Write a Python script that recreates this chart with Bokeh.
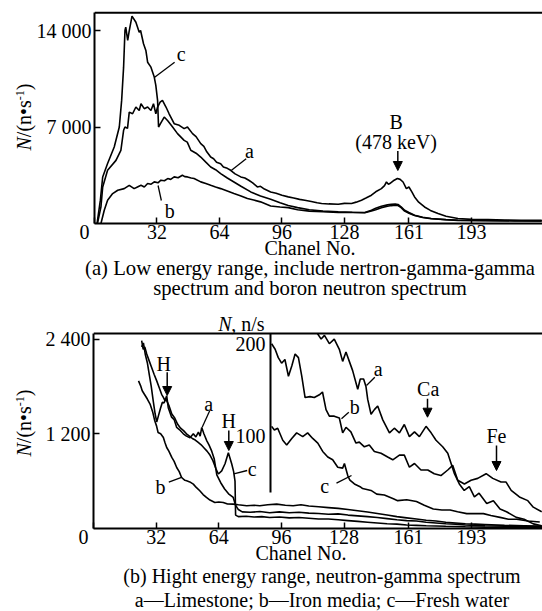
import math
from bokeh.plotting import figure
from bokeh.models import Label, Arrow, NormalHead, Span, Range1d, FixedTicker, Div
from bokeh.layouts import column, row
from bokeh.embed import file_html
from bokeh.resources import INLINE

# ---------------- data ----------------
ticks_x = [0, 32, 64, 96, 128, 161, 193]
ticks_low_y = [7000, 14000]
ticks_high_y = [1200, 2400]
inset_ticks = [100, 200]

# (a) low energy range
a_low_ch = [1.5, 3.3, 4.2, 6.7, 11, 13.5, 14.9, 15.6, 16.9, 17.8, 19.5, 21.2, 22.9, 23.8, 25.5, 27.2, 28.9,
            30.2, 31.4, 32.3, 33.6, 34.8, 36.6, 38.2, 40.8, 43.4, 45.9, 47.6, 50.2, 52, 54.4, 56, 57.5, 59.5,
            61, 62.5, 64.6, 66, 68, 69.7, 72, 74.9, 77, 79, 81, 83.4, 85, 87, 90.2, 93, 96, 99.2, 102, 105,
            107.7, 111, 114, 116.3, 120, 124.8, 128, 131.6, 134, 136.7, 139, 141.8, 144, 146.9, 148.5, 149.5,
            150.5, 151.2, 153, 155.1, 156.5, 158, 159.7, 161, 162.5, 163.9, 166, 169, 172, 175.9, 180, 186.1,
            193, 201.5, 210, 218.4, 229]
a_low_n = [0, 1200, 2650, 3860, 4580, 5310, 6760, 7000, 6900, 8080, 7960, 8450, 8200, 8690, 8330, 8450, 8200,
           8690, 7960, 8450, 8810, 8930, 8450, 7960, 7240, 7120, 6880, 7000, 6520, 6300, 5790, 5600, 5200, 4820,
           4700, 4450, 4340, 4100, 4000, 3860, 3600, 3380, 3300, 3140, 2950, 2650, 2700, 2500, 2290, 2200, 2050,
           1930, 1850, 1750, 1690, 1600, 1500, 1450, 1420, 1400, 1460, 1450, 1550, 1690, 1850, 2050, 2300, 2530,
           2750, 3010, 2850, 2900, 3100, 3260, 3200, 3010, 2530, 2650, 2300, 1930, 1550, 1200, 950, 720, 520,
           360, 300, 290, 250, 240, 230]

c_low_ch = [1.3, 3, 4.2, 6.7, 10.1, 12.7, 13.9, 14.9, 15.6, 16, 17, 17.7, 19.2, 21.2, 22.9, 23.6, 25.1, 26.3,
            27.2, 28.9, 30.6, 31.4, 32.3, 32.8, 34, 35.7, 37.5, 40, 42.5, 45.9, 47.5, 49.3, 52, 54.4, 57, 59.5,
            62, 64.6, 68, 71.4, 75, 80, 85, 90.2, 95, 99.2, 104, 110, 117, 124.8, 132, 138.4, 141.8, 144, 146.9,
            150, 152, 154, 155.4, 157, 158.8, 161, 163.9, 168, 172.4, 180, 186, 200, 215, 229]
c_low_n = [0, 1690, 3380, 4350, 5550, 7000, 8930, 11340, 14000, 14250, 13280, 13900, 15040, 14600, 13880, 14000,
           13040, 12550, 11700, 11340, 10620, 10020, 8930, 7000, 7300, 7720, 7450, 7000, 6520, 6030, 5900, 5310,
           5100, 4820, 4450, 4100, 3900, 3620, 3300, 3010, 2700, 2290, 2000, 1760, 1500, 1300, 1150, 1000, 900,
           850, 820, 800, 960, 1100, 1250, 1350, 1400, 1420, 1380, 1200, 960, 800, 600, 450, 360, 280, 240, 220,
           200, 190]

b_low_ch = [3.3, 5, 6.7, 9.3, 11.9, 15.2, 17.8, 20.3, 22, 23.8, 25.5, 27.2, 29, 30.6, 32.5, 34, 35.8, 37.5, 39,
            40.8, 42.8, 45, 46.2, 47.6, 49.5, 51, 54.4, 57, 59.5, 62, 64.6, 68, 71.4, 75, 78.3, 81.5, 85, 90.2,
            95, 99.2, 104, 110, 117, 124.8, 132, 138.4, 141.8, 144, 146.9, 150, 152, 154, 155.4, 157, 158.8, 161,
            163.9, 168, 172.4, 180, 186, 200, 215, 229]
b_low_n = [0, 960, 1690, 2170, 2410, 2530, 2770, 2530, 2650, 2770, 2650, 2900, 2850, 3020, 2950, 3140, 3100,
           3260, 3200, 3380, 3320, 3500, 3400, 3380, 3300, 3260, 3020, 2900, 2770, 2650, 2530, 2350, 2170, 2000,
           1810, 1700, 1570, 1270, 1200, 1150, 1000, 900, 850, 810, 800, 780, 900, 1000, 1150, 1250, 1300, 1320,
           1300, 1150, 900, 750, 580, 430, 350, 270, 230, 210, 190, 180]

# (b) high energy range, main scale
a_high_ch = [24.6, 25.4, 26.2, 27.2, 28.5, 29.7, 31, 32.3, 33.5, 34.8, 35.7, 36.5, 37.4, 38.2, 39.9, 41.2, 42.5,
             44, 45.9, 47.5, 49.3, 51, 52.3, 53.6, 54.5, 55.3, 56.4, 57.9, 59, 60.4, 61.7, 63, 65, 67, 69, 71.4,
             72.5, 74, 76, 80, 85, 90, 95, 100, 105, 110, 115, 120, 125, 130, 135, 140, 145, 150, 155, 160, 165,
             170, 175, 180, 185, 190, 195, 200, 210, 220, 230]
a_high_n = [2380, 2270, 2300, 2210, 2120, 2040, 1950, 1870, 1790, 1700, 1660, 1620, 1680, 1530, 1410, 1380, 1280,
            1250, 1200, 1170, 1150, 1200, 1160, 1220, 1170, 1280, 1200, 1110, 1060, 980, 880, 680, 580, 500, 440,
            393, 300, 240, 210, 205, 215, 200, 210, 200, 205, 195, 190, 180, 185, 170, 160, 150, 140, 125, 110,
            100, 95, 80, 70, 60, 55, 45, 40, 35, 30, 25, 20]

b_high_ch = [23, 24.2, 24.9, 26, 27.5, 28.9, 30.2, 31.3, 32.2, 33, 34.3, 35.7, 36.5, 37.4, 38.5, 40, 41.2, 42.5,
             43.8, 45, 46.7, 47.6, 49.2, 51, 52.5, 54.3, 56, 57.7, 59.5, 62, 64, 66.3, 68.5, 71.4, 74, 78.3, 82,
             85, 89, 93.6, 98, 102, 106, 110, 115, 120, 125, 130, 135, 140, 145, 150, 155, 160, 165, 170, 175,
             180, 185, 190, 195, 200, 210, 220, 230]
b_high_n = [1870, 1800, 1745, 1700, 1640, 1576, 1480, 1365, 1300, 1216, 1200, 1153, 1090, 1026, 980, 900, 850,
            773, 720, 646, 610, 604, 590, 562, 520, 478, 430, 393, 360, 330, 335, 330, 310, 309, 300, 288, 295,
            288, 300, 309, 295, 288, 300, 285, 275, 265, 255, 240, 225, 210, 190, 170, 150, 135, 120, 105, 95,
            80, 70, 60, 55, 50, 40, 35, 30]

c_high_ch = [24.6, 25.5, 26.5, 27.5, 28.5, 29.5, 30.6, 31.5, 32.3, 33.2, 34.2, 35.2, 36, 37, 38.5, 40, 41.5, 43,
             44.5, 46, 47.5, 49, 50.5, 52, 53.5, 55, 56.5, 58, 59.5, 61, 62.5, 63.8, 65.5, 67.2, 68.9, 70.6, 71.6,
             72.3, 72.6, 74, 78, 82, 86, 90, 95, 100, 105, 110, 115, 120, 125, 130, 135, 140, 145, 150, 155, 160,
             165, 170, 180, 190, 200, 210, 220, 230]
c_high_n = [2300, 2350, 2200, 2100, 1950, 1800, 1600, 1450, 1350, 1430, 1520, 1600, 1590, 1640, 1560, 1450, 1400,
            1320, 1270, 1240, 1200, 1170, 1140, 1120, 1090, 1060, 1020, 980, 930, 860, 760, 690, 730, 820, 960,
            820, 720, 600, 170, 150, 155, 145, 150, 140, 145, 135, 140, 130, 120, 120, 110, 100, 90, 80, 70, 60,
            55, 45, 40, 35, 28, 22, 18, 15, 12, 10]

# (b) inset, N in n/s
a_ins_ch = [114.4, 116.3, 118, 120.5, 123, 125.6, 127.3, 129, 130.7, 132.4, 135, 136.3, 138, 139.2, 140.1,
            141.8, 143.5, 145.2, 147.8, 149.5, 151.2, 153.7, 156.3, 158.8, 161.4, 164, 166.5, 169.9, 172.5, 175,
            178.4, 181, 182.7, 184.4, 186.9, 189.4, 192, 194.6, 197, 200.9, 204.3, 207.7, 211, 216, 220, 224.7, 229]
a_ins_n = [210, 204, 208, 199, 204, 193, 180, 190, 180, 170, 150, 161, 161, 153, 139, 123, 128, 132, 117,
           110, 103, 108, 103, 112, 99, 104, 99, 110, 103, 95, 88, 81, 70, 59, 48, 41, 45, 34, 38, 27, 30, 21, 18,
           12, 10, 5, 3]

b_ins_ch = [91, 92.8, 94.4, 96.1, 97.8, 99.6, 101.3, 103, 104.7, 106.4, 108.1, 110.6, 112.8, 115.4, 117, 118.8,
            120.5, 123, 125.6, 127.3, 129, 131.5, 134.1, 135.8, 138.4, 140.9, 143.5, 146.9, 150.3, 152.9, 156.3,
            158.8, 161.4, 164, 167.3, 170.8, 174.1, 177.5, 181, 183.5, 186.1, 189.5, 192.9, 196.3, 200.6, 204,
            208.2, 210.8, 213.4, 217.6, 221.9, 224.7, 229]
b_ins_n = [199, 193, 184, 178, 182, 164, 175, 188, 184, 164, 141, 142, 141, 144, 147, 128, 121, 121, 119, 103,
           109, 104, 92, 93, 88, 90, 83, 81, 77, 74, 79, 79, 66, 70, 63, 63, 59, 57, 63, 68, 52, 48, 52, 54, 59,
           54, 50, 50, 41, 34, 30, 23, 18]

c_ins_ch = [91, 92.4, 94.1, 96.7, 98.7, 101.3, 103.8, 106.9, 109.4, 112, 114.6, 117.1, 119.7, 122.2, 124.8, 127.3,
            128.2, 129.9, 131, 133.3, 136.2, 137.5, 141.8, 144.7, 148.6, 153.2, 155.4, 160, 165, 169, 173.6, 178,
            182.2, 186, 190.7, 195, 199.2, 203, 207.7, 212, 216.2, 222, 228]
c_ins_n = [110, 106, 108, 95, 90, 97, 103, 99, 103, 97, 92, 83, 77, 74, 66, 65, 70, 57, 52, 48, 45, 43, 41, 37,
           36, 32, 30, 31, 29, 25, 21, 20, 20, 18, 16, 16, 16, 14, 12, 10, 10, 8, 7]

xlabel_text = "Chanel No."
caption_a1 = "(a) Low energy range, include nertron-gamma-gamma"
caption_a2 = "spectrum and boron neutron spectrum"
caption_b = "(b) Hight energy range, neutron-gamma spectrum"
legend_text = "a\u2014Limestone; b\u2014Iron media; c\u2014Fresh water"

# ---------------- layout constants (page pixels) ----------------
FONT = "Liberation Serif"
FS = "20px"
PAGE_W = 542
YL_W = 33               # width of the y-label strip
FRAME_L = 93            # page x of the left axis
FIG_W = PAGE_W - YL_W
XMAX = 229.4
PXC = (PAGE_W - FRAME_L) / XMAX

BOT_BORDER = 34
HA = 223 + BOT_BORDER   # top figure (frame 10..223)
B_TOP = 300             # page y where bottom figure starts
CAP_A_H = B_TOP - HA
HB = 12 + 216 + BOT_BORDER  # bottom figure (frame 312..528)
CAP_B_H = 611 - B_TOP - HB


def cx(X):
    return (X - FRAME_L) / PXC


def ya(Y):
    return (223 - Y) * 14000 / 193


def yb(Y):
    return (528 - Y) * 2470 / 195


def yi(Y):
    return (528 - Y) * 210 / 195


def base_fig(height, top, yend, ybound, yticks, overrides):
    p = figure(width=FIG_W, height=height, x_range=Range1d(0, XMAX), y_range=Range1d(0, yend),
               output_backend="svg", toolbar_location=None,
               min_border_left=FRAME_L - YL_W, min_border_right=0,
               min_border_top=top, min_border_bottom=BOT_BORDER)
    p.title.visible = False
    p.grid.visible = False
    p.outline_line_color = None
    p.border_fill_color = None
    p.background_fill_color = None
    for ax in (p.xaxis[0], p.yaxis[0]):
        ax.axis_line_width = 2
        ax.major_tick_in = 6
        ax.major_tick_out = 0
        ax.major_tick_line_width = 1.5
        ax.minor_tick_line_color = None
        ax.major_label_text_font = FONT
        ax.major_label_text_font_size = FS
        ax.major_label_text_color = "black"
    p.xaxis.ticker = FixedTicker(ticks=ticks_x)
    p.xaxis.major_label_overrides = {0: "0\u00a0\u00a0\u00a0\u00a0"}
    p.xaxis.major_label_standoff = -3
    p.yaxis.ticker = FixedTicker(ticks=yticks)
    p.yaxis.major_label_overrides = overrides
    p.yaxis.major_label_standoff = 3
    p.yaxis.bounds = (0, ybound)
    p.add_layout(Span(location=ybound, dimension="width", line_color="black", line_width=2))
    return p


def lab(p, x, y, text, align="center", style="normal", size=FS, **kw):
    p.add_layout(Label(x=x, y=y, text=text, text_font=FONT, text_font_size=size, text_align=align,
                       text_baseline="middle", text_font_style=style, text_color="black", **kw))


def seg(p, X0, Y0, X1, Y1, conv, **kw):
    p.segment(x0=[cx(X0)], y0=[conv(Y0)], x1=[cx(X1)], y1=[conv(Y1)], line_color="black",
              line_width=1.3, **kw)


def arrow(p, x0, y0, x1, y1, **kw):
    p.add_layout(Arrow(end=NormalHead(size=9, fill_color="black", line_color="black", line_width=1),
                       x_start=x0, y_start=y0, x_end=x1, y_end=y1, line_width=1.5, line_color="black", **kw))


def ylabel_div(height, center_y):
    html = ('<div style="position:relative;width:%dpx;height:%dpx;">'
            '<div style="position:absolute;left:22px;top:%dpx;transform:translate(-50%%,-50%%) rotate(-90deg);'
            'white-space:nowrap;font-family:\'Liberation Serif\';font-size:20px;line-height:20px;color:black;">'
            '<i>N</i>/(n\u2022s<sup style="font-size:12px;">-1</sup>)</div></div>') % (YL_W, height, center_y)
    return Div(text=html, width=YL_W, height=height, margin=0, styles={"overflow": "visible"})


def caption_div(height, top_page, blocks):
    # blocks: (x centre, centre y of first line, line pitch, [(text, font size), ...]); page pixels
    parts = []
    for xc, first_center, line_h, lines in blocks:
        body = "<br>".join('<span style="font-size:%s;">%s</span>' % (fs, text) for text, fs in lines)
        parts.append('<div style="position:absolute;left:%dpx;width:540px;top:%dpx;text-align:center;'
                     'white-space:nowrap;line-height:%dpx;">%s</div>'
                     % (xc - 270, first_center - top_page - line_h // 2, line_h, body))
    html = ('<div style="position:relative;width:%dpx;height:%dpx;font-family:\'Liberation Serif\';'
            'color:black;">%s</div>') % (PAGE_W, height, "".join(parts))
    return Div(text=html, width=PAGE_W, height=height, margin=0, styles={"overflow": "visible"})


LW = 1.6

# ---------------- panel (a) ----------------
pa = base_fig(HA, 10, ya(10), ya(12.3), ticks_low_y, {7000: "7 000", 14000: "14 000"})
for xs, ys in ((b_low_ch, b_low_n), (c_low_ch, c_low_n), (a_low_ch, a_low_n)):
    pa.line(xs, ys, line_color="black", line_width=LW)

lab(pa, cx(180), ya(53), "c")
seg(pa, 173.3, 61.7, 153.3, 76.7, ya)
lab(pa, cx(248.3), ya(150), "a")
seg(pa, 245, 158.3, 230, 170, ya)
lab(pa, cx(168.3), ya(210), "b")
seg(pa, 160, 200, 156.7, 185, ya)
lab(pa, cx(395.3), ya(121.7), "B")
lab(pa, cx(395.3), ya(141.7), "(478 keV)")
arrow(pa, cx(397), ya(150.5), cx(397), ya(170))

# ---------------- panel (b) ----------------
pb = base_fig(HB, 12, yb(B_TOP + 12), 2470, ticks_high_y, {1200: "1 200", 2400: "2 400"})
pb.extra_y_ranges = {"inset": Range1d(0, yi(B_TOP + 12))}
for xs, ys in ((b_high_ch, b_high_n), (c_high_ch, c_high_n), (a_high_ch, a_high_n)):
    pb.line(xs, ys, line_color="black", line_width=LW)
for xs, ys in ((c_ins_ch, c_ins_n), (b_ins_ch, b_ins_n), (a_ins_ch, a_ins_n)):
    pb.line(xs, ys, line_color="black", line_width=LW, y_range_name="inset")

# inset axis
pb.segment(x0=[cx(270)], y0=[yi(333)], x1=[cx(270)], y1=[yi(492)], line_color="black", line_width=2,
           y_range_name="inset")
lab(pb, cx(265), yi(343), str(inset_ticks[1]), align="right", y_range_name="inset")
lab(pb, cx(265), yi(435), str(inset_ticks[0]), align="right", y_range_name="inset")
lab(pb, cx(264), yi(323), ", n/s", align="right", y_range_name="inset")
lab(pb, cx(231), yi(323), "N", align="right", style="italic", y_range_name="inset")

# main-scale annotations
lab(pb, cx(163.3), yb(363.3), "H")
arrow(pb, cx(166.7), yb(371.7), cx(166.7), yb(395))
lab(pb, cx(208.3), yb(403.3), "a")
seg(pb, 209.3, 410, 201.7, 426.7, yb)
lab(pb, cx(228.3), yb(420), "H")
arrow(pb, cx(228.3), yb(430), cx(228.3), yb(450))
lab(pb, cx(251.7), yb(468.3), "c")
seg(pb, 246.7, 470, 233.3, 473.3, yb)
lab(pb, cx(160), yb(486.7), "b")
seg(pb, 168.3, 481.7, 181.7, 476.7, yb)
# inset annotations
lab(pb, cx(377.7), yi(368.3), "a", y_range_name="inset")
seg(pb, 374.3, 376.7, 366, 385, yi, y_range_name="inset")
lab(pb, cx(354.3), yi(406.7), "b", y_range_name="inset")
seg(pb, 348.3, 411.7, 341, 418.3, yi, y_range_name="inset")
lab(pb, cx(324.3), yi(485), "c", y_range_name="inset")
seg(pb, 336, 482.7, 351, 475, yi, y_range_name="inset")
lab(pb, cx(427.7), yi(388.3), "Ca", y_range_name="inset")
arrow(pb, cx(427), yi(398.3), cx(427), yi(416.7), y_range_name="inset")
lab(pb, cx(496), yi(435), "Fe", y_range_name="inset")
arrow(pb, cx(496), yi(445), cx(496), yi(470), y_range_name="inset")

# ---------------- texts outside the frames ----------------
cap_a = caption_div(CAP_A_H, HA, [
    (310, 248, 17, [(xlabel_text, "20px"), (caption_a1, "20.7px"), (caption_a2, "20.7px")]),
])
cap_b = caption_div(CAP_B_H, B_TOP + HB, [
    (301, 553, 20, [(xlabel_text, "20px")]),
    (322, 576, 21, [(caption_b, "20px"), (legend_text, "20px")]),
])

layout = column(row(ylabel_div(HA, 117), pa, spacing=0), cap_a,
                row(ylabel_div(HB, 423 - B_TOP), pb, spacing=0), cap_b, spacing=0)
open("out.html", "w").write(file_html(layout, INLINE))
